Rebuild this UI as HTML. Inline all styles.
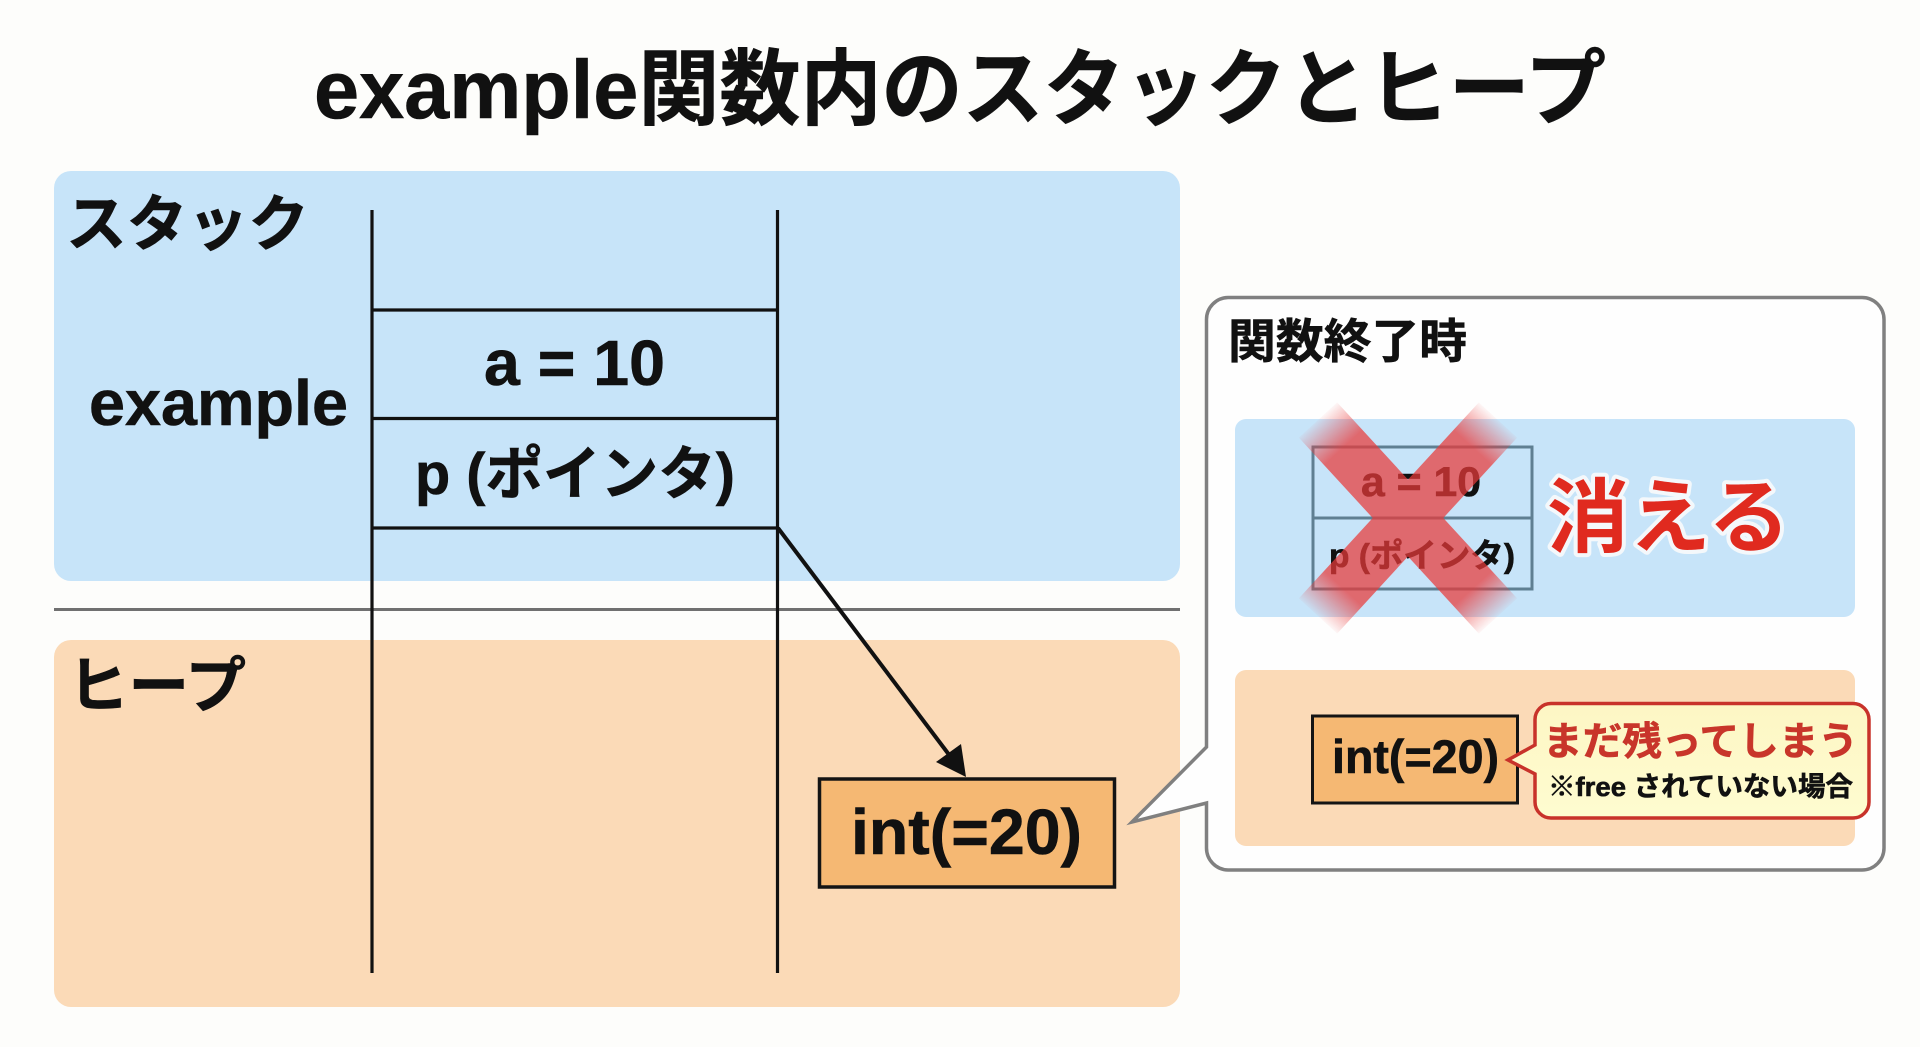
<!DOCTYPE html>
<html lang="ja">
<head>
<meta charset="utf-8">
<title>example関数内のスタックとヒープ</title>
<style>
html,body{margin:0;padding:0;width:1920px;height:1047px;overflow:hidden;background:#fdfdfb}
svg{display:block}
text{font-family:"Liberation Sans","Noto Sans CJK JP",sans-serif;font-weight:700;fill:#111;stroke:#111;stroke-width:.6px}
</style>
</head>
<body>
<svg xmlns="http://www.w3.org/2000/svg" width="1920" height="1047" viewBox="0 0 1920 1047">
<defs>
<linearGradient id="g1" gradientUnits="userSpaceOnUse" x1="1318" y1="420" x2="1498" y2="616">
<stop offset="0" stop-color="#e93a3a" stop-opacity=".05"/>
<stop offset=".14" stop-color="#e93a3a" stop-opacity="1"/>
<stop offset=".86" stop-color="#e93a3a" stop-opacity="1"/>
<stop offset="1" stop-color="#e93a3a" stop-opacity=".05"/>
</linearGradient>
<linearGradient id="g2" gradientUnits="userSpaceOnUse" x1="1498" y1="420" x2="1318" y2="616">
<stop offset="0" stop-color="#e93a3a" stop-opacity=".05"/>
<stop offset=".14" stop-color="#e93a3a" stop-opacity="1"/>
<stop offset=".86" stop-color="#e93a3a" stop-opacity="1"/>
<stop offset="1" stop-color="#e93a3a" stop-opacity=".05"/>
</linearGradient>
<linearGradient id="y" x1="0" y1="0" x2="0" y2="1">
<stop offset="0" stop-color="#fdf6c4"/>
<stop offset="1" stop-color="#fefcd0"/>
</linearGradient>
</defs>

<rect x="0" y="0" width="1920" height="1047" fill="#fdfdfb"/>

<!-- title -->
<text x="314" y="118" font-size="83" textLength="1292" lengthAdjust="spacingAndGlyphs">example関数内のスタックとヒープ</text>

<!-- panels -->
<rect x="54" y="171" width="1126" height="410" rx="17" fill="#c7e4f9"/>
<rect x="54" y="640" width="1126" height="367" rx="17" fill="#fbdab7"/>
<rect x="54" y="608" width="1126" height="3" fill="#707070"/>

<!-- labels -->
<text x="66" y="245" font-size="61" textLength="243" lengthAdjust="spacingAndGlyphs">スタック</text>
<text x="68" y="707" font-size="61" textLength="178" lengthAdjust="spacingAndGlyphs">ヒープ</text>
<text x="89" y="425" font-size="64" textLength="259" lengthAdjust="spacingAndGlyphs">example</text>

<!-- stack lines -->
<g stroke="#111" stroke-width="3.200" fill="none">
<line x1="372" y1="210" x2="372" y2="973"/>
<line x1="777.500" y1="210" x2="777.500" y2="973"/>
<line x1="372" y1="310" x2="777" y2="310"/>
<line x1="372" y1="418.500" x2="777" y2="418.500"/>
<line x1="372" y1="528" x2="777" y2="528"/>
</g>
<text x="484" y="385" font-size="64" textLength="181" lengthAdjust="spacingAndGlyphs">a = 10</text>
<text x="415" y="494" font-size="58" textLength="320" lengthAdjust="spacingAndGlyphs">p (ポインタ)</text>

<!-- arrow -->
<line x1="778" y1="528" x2="950" y2="756" stroke="#111" stroke-width="4"/>
<polygon points="966,777 936,762 961,744" fill="#111"/>

<!-- int box -->
<rect x="819.500" y="779" width="295" height="108" fill="#f5b873" stroke="#141414" stroke-width="3.500"/>
<text x="851" y="854" font-size="64" textLength="231" lengthAdjust="spacingAndGlyphs">int(=20)</text>

<!-- callout -->
<path d="M1228 297.500H1862A22 22 0 0 1 1884 319.500V848A22 22 0 0 1 1862 870H1228A22 22 0 0 1 1206.500 848V803L1132 822L1206.500 747V319.500A22 22 0 0 1 1228 297.500Z" fill="#fefefe" stroke="#808080" stroke-width="3.500" stroke-linejoin="miter"/>
<text x="1228" y="358" font-size="47" textLength="239" lengthAdjust="spacingAndGlyphs">関数終了時</text>

<!-- inner blue -->
<rect x="1235" y="419" width="620" height="198" rx="11" fill="#c7e4f9"/>
<g stroke="#5f7f92" stroke-width="3" fill="none">
<rect x="1313" y="447" width="219" height="142"/>
<line x1="1313" y1="518" x2="1532" y2="518"/>
</g>
<text x="1361" y="496" font-size="42" textLength="120" lengthAdjust="spacingAndGlyphs">a = 10</text>
<text x="1329" y="567" font-size="33" textLength="186" lengthAdjust="spacingAndGlyphs">p (ポインタ)</text>

<!-- red X -->
<g opacity=".72">
<line x1="1318" y1="420" x2="1498" y2="616" stroke="url(#g1)" stroke-width="52"/>
<line x1="1498" y1="420" x2="1318" y2="616" stroke="url(#g2)" stroke-width="52"/>
</g>

<text x="1547" y="546" font-size="81" textLength="243" lengthAdjust="spacingAndGlyphs" style="fill:#e02a1f;stroke:#f4f8fb;stroke-width:8px;paint-order:stroke;stroke-linejoin:round">消える</text>

<!-- inner orange -->
<rect x="1235" y="670" width="620" height="176" rx="11" fill="#fbdab7"/>
<rect x="1312.500" y="716" width="205" height="87" fill="#f5b873" stroke="#141414" stroke-width="3"/>
<text x="1332" y="773" font-size="47" textLength="167" lengthAdjust="spacingAndGlyphs">int(=20)</text>

<!-- yellow note -->
<path d="M1551 703.500H1853A16 16 0 0 1 1869 719.500V802A16 16 0 0 1 1853 818H1551A16 16 0 0 1 1535 802V774L1508 760L1535 745V719.500A16 16 0 0 1 1551 703.500Z" fill="url(#y)" stroke="#c8322a" stroke-width="3.500"/>
<text x="1543" y="755" font-size="39" textLength="315" lengthAdjust="spacingAndGlyphs" style="fill:#c8352a;stroke:#c8352a">まだ残ってしまう</text>
<text x="1548" y="796" font-size="27" textLength="305" lengthAdjust="spacingAndGlyphs">※free されていない場合</text>
</svg>
</body>
</html>
